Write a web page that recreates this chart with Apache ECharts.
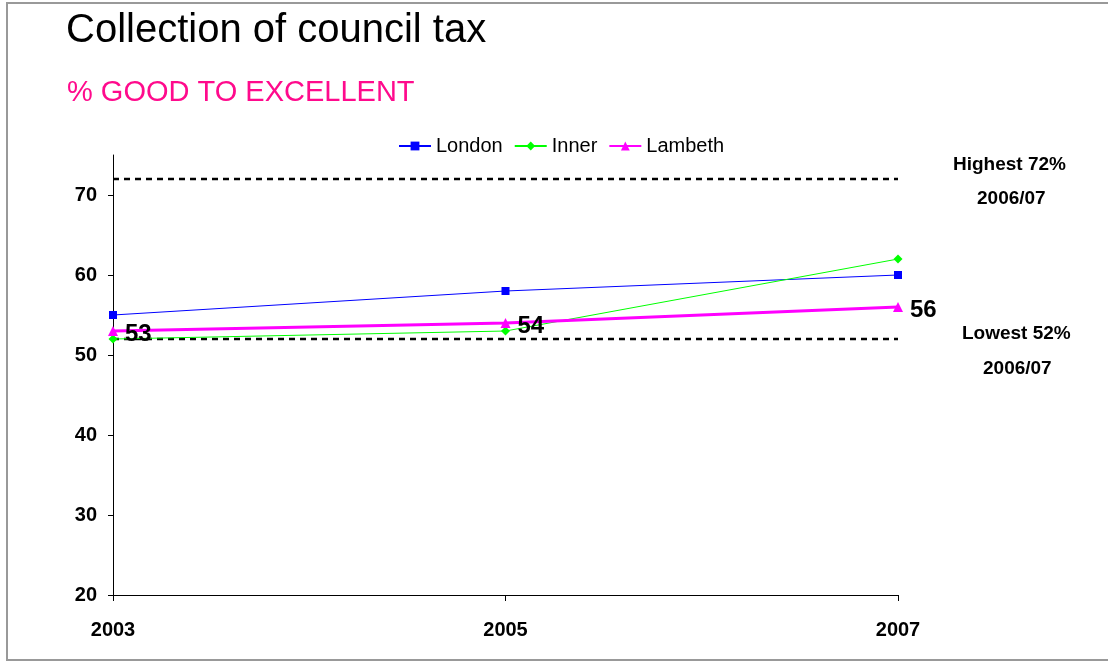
<!DOCTYPE html>
<html>
<head>
<meta charset="utf-8">
<script src="https://cdn.jsdelivr.net/npm/echarts@6/dist/echarts.min.js"></script>
<style>
  html, body { margin: 0; padding: 0; background: #fff; }
  #chart { width: 1108px; height: 662px; }
</style>
</head>
<body>
<div id="chart"></div>
<script>
// Survey years
const years = ['2003', '2005', '2007'];
// % rating council tax collection good to excellent
const london = [55, 58, 60];
const inner = [52, 53, 62];
const lambeth = [53, 54, 56];
// Highest and lowest borough scores, 2006/07
const highest = [72, 72, 72];
const lowest = [52, 52, 52];
// Y-axis range
const yMin = 20, yMax = 75, yStep = 10;

const FONT = '"Liberation Sans", Arial, sans-serif';
const chart = echarts.init(document.getElementById('chart'));

const refLine = (name, data) => ({
  name, type: 'line', data, symbol: 'none', silent: true,
  lineStyle: { color: '#000', width: 2.5, type: [6, 5] }, z: 1
});

const note = (text, x, y) => ({
  type: 'text', x, y,
  style: { text, font: 'bold 19px ' + FONT, fill: '#000', verticalAlign: 'middle' }
});

chart.setOption({
  animation: false,
  textStyle: { fontFamily: FONT },
  title: [
    { text: 'Collection of council tax', left: 66, top: 11, padding: 0,
      textStyle: { fontFamily: FONT, fontSize: 40, fontWeight: 'normal', color: '#000' } },
    { text: '% GOOD TO EXCELLENT', left: 67, top: 78, padding: 0,
      textStyle: { fontFamily: FONT, fontSize: 29, fontWeight: 'normal', color: '#FF0A8C' } }
  ],
  legend: {
    data: ['London', 'Inner', 'Lambeth'],
    top: 131, left: 393, itemGap: 11, itemWidth: 32, itemHeight: 11,
    textStyle: { fontFamily: FONT, fontSize: 20, color: '#000' }
  },
  grid: { left: 113, right: 210, top: 155, bottom: 67, containLabel: false },
  xAxis: {
    type: 'category', data: years, boundaryGap: false,
    axisLine: { lineStyle: { color: '#000', width: 1 } },
    axisTick: { show: true, length: 6, alignWithLabel: true, lineStyle: { color: '#000' } },
    axisLabel: { margin: 25, fontFamily: FONT, fontSize: 20, fontWeight: 'bold', color: '#000' },
    splitLine: { show: false }
  },
  yAxis: {
    type: 'value', min: yMin, max: yMax, interval: yStep,
    axisLine: { show: true, lineStyle: { color: '#000', width: 1 } },
    axisTick: { show: true, length: 5, lineStyle: { color: '#000' } },
    axisLabel: { margin: 16, fontFamily: FONT, fontSize: 20, fontWeight: 'bold', color: '#000', showMaxLabel: false,
      formatter: v => (v % yStep === 0 ? String(v) : '') },
    splitLine: { show: false }
  },
  series: [
    refLine('Highest', highest),
    refLine('Lowest', lowest),
    { name: 'London', type: 'line', data: london, symbol: 'rect', symbolSize: 8,
      lineStyle: { color: '#0000FF', width: 1 }, itemStyle: { color: '#0000FF' }, z: 3 },
    { name: 'Inner', type: 'line', data: inner, symbol: 'diamond', symbolSize: 9,
      lineStyle: { color: '#00FF00', width: 1 }, itemStyle: { color: '#00FF00' }, z: 3 },
    { name: 'Lambeth', type: 'line', data: lambeth, symbol: 'triangle', symbolSize: 10,
      lineStyle: { color: '#FF00FF', width: 3 }, itemStyle: { color: '#FF00FF' }, z: 4,
      label: { show: true, position: 'right', distance: 7, offset: [0, 3],
        fontFamily: FONT, fontSize: 24, fontWeight: 'bold', color: '#000' } }
  ],
  graphic: [
    { type: 'rect', shape: { x: 7, y: 3, width: 1110, height: 657 },
      style: { fill: 'none', stroke: '#999', lineWidth: 2 }, silent: true },
    note('Highest 72%', 953, 165),
    note('2006/07', 977, 199),
    note('Lowest 52%', 962, 334),
    note('2006/07', 983, 369)
  ]
});
</script>
</body>
</html>
